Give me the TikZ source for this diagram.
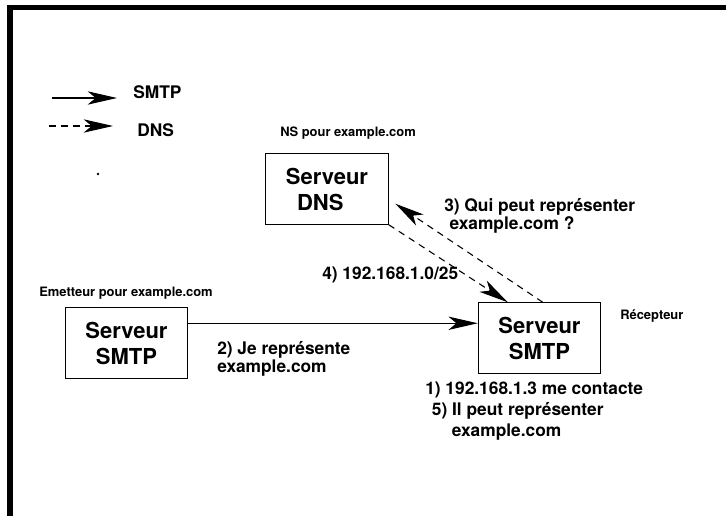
\documentclass[tikz,border=0pt]{standalone}
\usepackage{fontspec}
\setmainfont{TeX Gyre Heros}
\usetikzlibrary{arrows.meta}

\tikzset{
	serveur/.style={draw,line width=0.6pt,minimum width=92pt,minimum height=53pt,inner sep=0pt,align=center,font=\fontsize{16.5}{19.5}\selectfont\bfseries},
	etiq/.style={anchor=west,align=left,inner sep=0pt,font=\fontsize{13}{13.5}\selectfont\bfseries},
	petit/.style={anchor=west,inner sep=0pt,font=\fontsize{9.7}{11}\selectfont\bfseries},
	smtp/.style={line width=0.8pt,-{Stealth[length=22pt,width=10pt,inset=6pt]}},
	dns/.style={smtp,dash pattern=on 5pt off 4pt},
}

\begin{document}
\begin{tikzpicture}[x=0.75pt,y=-0.75pt]
	\useasboundingbox (0,0) rectangle (726,516);
	\draw[line width=4.1pt](10,516)--(10,7.5)--(726,7.5);
	% legende
	\coordinate (ls0) at (52,98);
	\coordinate (ls1) at (117,98);
	\coordinate (ld0) at (49,126);
	\coordinate (ld1) at (113,126);
	\draw[smtp](ls0)--(ls1);
	\draw[dns](ld0)--(ld1);
	\node[etiq](lsmtp) at (133,92){SMTP};
	\node[etiq](ldns) at (137,130){DNS};
	\fill(98,174)circle(1pt);
	% serveurs
	\node[serveur](dnsbox) at (327,189){Serveur\\\hspace*{-10pt}DNS};
	\node[serveur](emet) at (126.5,343){Serveur\\SMTP};
	\node[serveur](recep) at (539.5,338){Serveur\\SMTP};
	\node[petit](ns) at (280,133){NS pour example.com};
	\node[petit](emlab) at (39,293){Emetteur pour example.com};
	\node[petit](reclab) at (620,316){Récepteur};
	% messages
	\coordinate (m0) at ([yshift=-12pt]emet.north east);
	\draw[smtp](m0)--(m0 -| recep.west);
	\draw[dns](dnsbox.south east)--([xshift=22.5pt]recep.north west);
	\draw[dns]([xshift=48.75pt]recep.north west)--([xshift=5pt,yshift=15.75pt]dnsbox.south east);
	\node[etiq](q3) at (444,216){3) Qui peut représenter\\\hspace*{4pt}example.com ?};
	\node[etiq](r4) at (322,275){4) 192.168.1.0/25};
	\node[etiq](m2) at (217,359){2) Je représente\\example.com};
	\node[etiq,font=\fontsize{13}{16}\selectfont\bfseries](r15) at (425,411){1) 192.168.1.3 me contacte\\\hspace*{5pt}5) Il peut représenter\\\hspace*{20pt}example.com};
\end{tikzpicture}
\end{document}
